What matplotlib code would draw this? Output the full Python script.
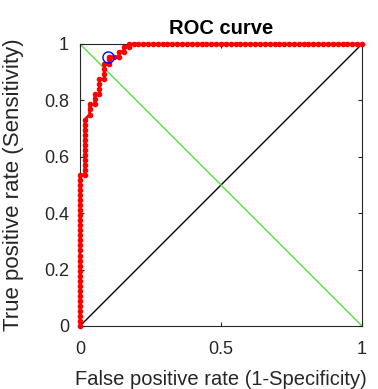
import matplotlib
matplotlib.use('Agg')
import matplotlib.pyplot as plt

plt.rcParams['font.family'] = ['Liberation Sans', 'DejaVu Sans']

# ROC points (false positive rate, true positive rate)
fpr = [0, 0, 0, 0, 0, 0, 0, 0, 0, 0, 0, 0, 0, 0, 0, 0,
       0, 0, 0, 0, 0, 0, 0, 0, 0, 0, 0, 0, 0, 0, 0,
       .017, .017, .017, .017, .017, .017, .017, .017, .017, .017, .017, .017,
       .034, .034, .034, .052, .052, .052, .069, .069, .069, .069,
       .086, .086, .086, .086, .103, .103, .103,
       .121, .138, .138, .155, .155, .172, .172,
       .19, .207, .224, .241, .259, .276, .293, .31, .328, .345, .362, .379,
       .397, .414, .431, .448, .466, .483, .5, .517, .534, .552, .569, .586,
       .603, .621, .638, .655, .672, .69, .707, .724, .741, .759, .776, .793,
       .81, .828, .845, .862, .879, .897, .914, .931, .948, .966, .983, 1]
tpr = [0, .018, .036, .054, .071, .089, .107, .125, .143, .161, .179, .196, .214, .232, .25, .268,
       .286, .304, .321, .339, .357, .375, .393, .411, .429, .446, .464, .482, .5, .518, .536,
       .536, .554, .571, .589, .607, .625, .643, .661, .679, .696, .714, .732,
       .75, .768, .786, .786, .804, .821, .821, .839, .857, .875,
       .875, .893, .911, .929, .929, .946, .955,
       .955, .955, .973, .973, .991, .991, 1,
       1, 1, 1, 1, 1, 1, 1, 1, 1, 1, 1, 1,
       1, 1, 1, 1, 1, 1, 1, 1, 1, 1, 1, 1,
       1, 1, 1, 1, 1, 1, 1, 1, 1, 1, 1, 1,
       1, 1, 1, 1, 1, 1, 1, 1, 1, 1, 1, 1]

opt_point = (0.1, 0.955)

fig = plt.figure(figsize=(3.78, 3.89), dpi=100)
ax = fig.add_axes([80/378, 63/389, 282/378, 282/389])

ax.plot([0, 1], [0, 1], color='k', lw=1)
ax.plot([0, 1], [1, 0], color='#55dd44', lw=1)
ax.plot(fpr, tpr, color='red', lw=2, marker='.', markersize=6, clip_on=False, zorder=3)
ax.plot(*opt_point, marker='o', markersize=8, mfc='none', mec='blue', mew=1, zorder=4)

ax.set_xlim(0, 1)
ax.set_ylim(0, 1)
ax.set_xticks([0, 0.5, 1])
ax.set_xticklabels(['0', '0.5', '1'])
ax.set_yticks([0, 0.2, 0.4, 0.6, 0.8, 1])
ax.set_yticklabels(['0', '0.2', '0.4', '0.6', '0.8', '1'])
ax.tick_params(direction='in', length=3, labelsize=13, top=True, right=True,
               colors='#262626', labelcolor='#262626')
ax.tick_params(axis='x', pad=11)
ax.tick_params(axis='y', pad=8)
for s in ax.spines.values():
    s.set_color('#262626')
    s.set_linewidth(0.8)

ax.set_title('ROC curve', fontsize=14.5, fontweight='bold', pad=7)
ax.set_xlabel('False positive rate (1-Specificity)', fontsize=14.5, color='#262626')
ax.set_ylabel('True positive rate (Sensitivity)', fontsize=16, color='#262626')
ax.xaxis.set_label_coords(0.5, -0.155)
ax.yaxis.set_label_coords(-0.2, 0.5)

fig.savefig('out.png', dpi=100)
